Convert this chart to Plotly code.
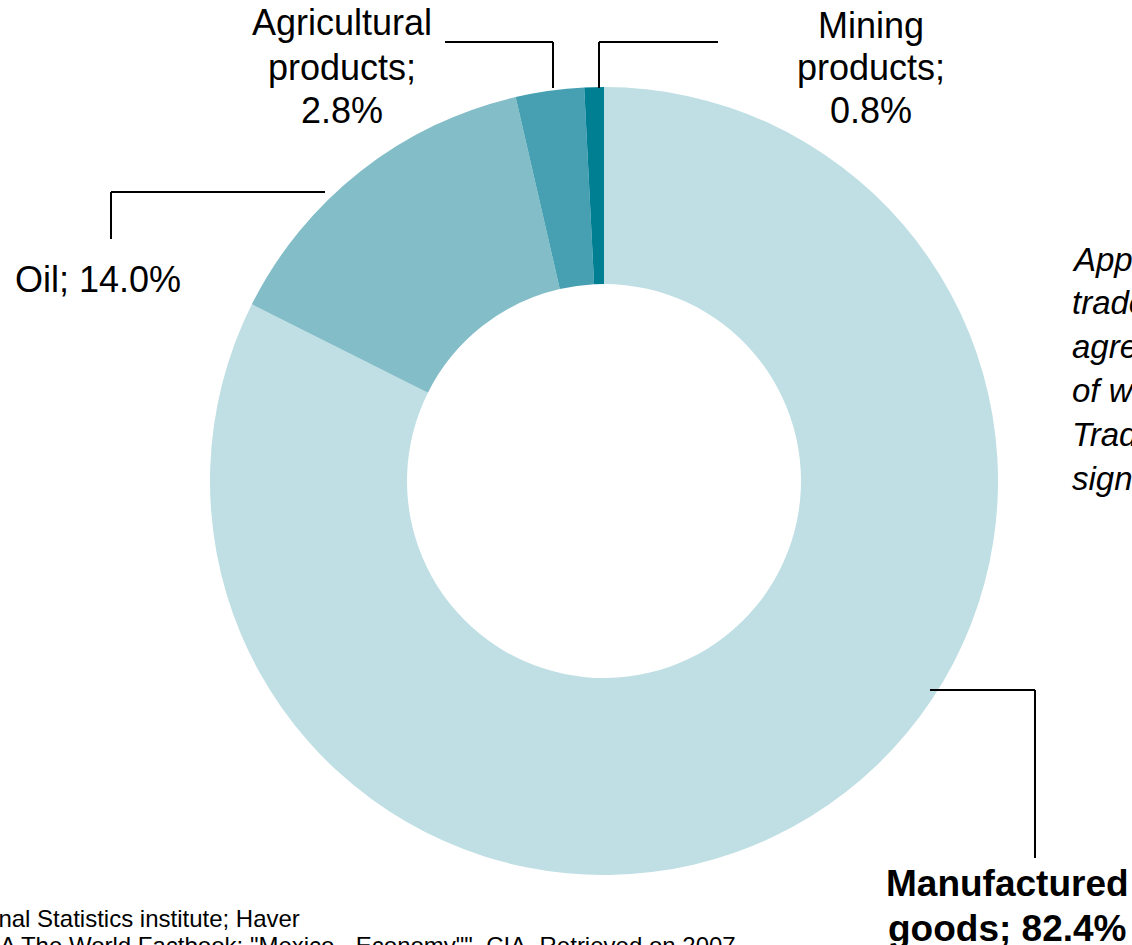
import plotly.graph_objects as go

W, H = 1132, 945

categories = ["Manufactured goods", "Oil", "Agricultural products", "Mining products"]
shares = [82.4, 14.0, 2.8, 0.8]
colors = ["#BFDFE4", "#83BDC8", "#46A0B2", "#007F93"]

note_lines = [
    "Approximately 90% of Mexican",
    "trade is under free trade",
    "agreements, the most important",
    "of which is the North American Free",
    "Trade Agreement (NAFTA),",
    "signed in 1992",
]
source_lines = [
    "Source: National Statistics institute; Haver",
    "CIA The World Factbook: \"Mexico - Economy\"\", CIA. Retrieved on 2007",
]


def px(x):
    return x / W


def py(y):
    return 1 - y / H


FONT = "Liberation Sans, Arial, sans-serif"

fig = go.Figure(
    go.Pie(
        labels=categories,
        values=shares,
        marker=dict(colors=colors, line=dict(width=0)),
        hole=0.5,
        sort=False,
        direction="clockwise",
        rotation=0,
        textinfo="none",
        hoverinfo="label+percent",
        showlegend=False,
        domain=dict(x=[px(210), px(998)], y=[py(875), py(87)]),
    )
)

annotations = []


def add_text(text, x, y, size=36, xanchor="center", bold=False, italic=False):
    t = text
    if bold:
        t = "<b>" + t + "</b>"
    if italic:
        t = "<i>" + t + "</i>"
    annotations.append(
        dict(
            text=t, x=px(x), y=py(y), xref="paper", yref="paper",
            xanchor=xanchor, yanchor="middle", showarrow=False,
            font=dict(family=FONT, size=size, color="black"),
        )
    )


def pct(v):
    return f"{v:.1f}%"


# Agricultural products
add_text("Agricultural", 342, 23)
add_text("products;", 342, 67)
add_text(pct(shares[2]), 342, 110)
# Mining products
add_text("Mining", 871, 25)
add_text("products;", 871, 67)
add_text(pct(shares[3]), 871, 110)
# Oil
add_text(f"Oil; {pct(shares[1])}", 13, 279, xanchor="left")
# Manufactured goods
add_text("Manufactured", 1007, 883, size=37, bold=True)
add_text(f"goods; {pct(shares[0])}", 1007, 928, size=37, bold=True)

# Right-hand italic note (cut by the frame)
for i, line in enumerate(note_lines):
    add_text(line, 1070, 259 + i * 43.8, size=33, xanchor="left", italic=True)

# Source lines (cut by the frame)
add_text(source_lines[0], 302, 918, size=24, xanchor="right")
add_text(source_lines[1], -26, 946, size=24, xanchor="left")

shapes = []


def seg(x0, y0, x1, y1):
    shapes.append(
        dict(type="line", xref="paper", yref="paper",
             x0=px(x0), y0=py(y0), x1=px(x1), y1=py(y1),
             line=dict(color="black", width=2))
    )


# leader lines
seg(445, 42, 553, 42)
seg(553, 42, 553, 88)
seg(599, 88, 599, 42)
seg(599, 42, 718, 42)
seg(325, 192, 111, 192)
seg(111, 192, 111, 239)
seg(930, 690, 1035, 690)
seg(1035, 690, 1035, 858)

fig.update_layout(
    width=W, height=H,
    margin=dict(l=0, r=0, t=0, b=0),
    paper_bgcolor="white",
    plot_bgcolor="white",
    annotations=annotations,
    shapes=shapes,
)

fig.write_html("out.html")
